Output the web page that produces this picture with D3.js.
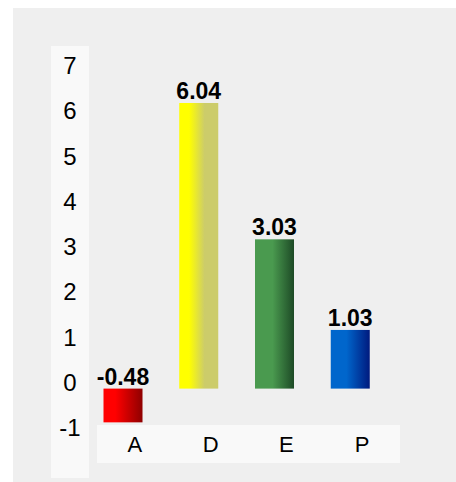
<!DOCTYPE html>
<html>
<head>
<meta charset="utf-8">
<script src="https://cdn.jsdelivr.net/npm/d3@7"></script>
<style>
  body { margin: 0; background: #fff; }
  text { font-family: "Liberation Sans", Arial, sans-serif; }
</style>
</head>
<body>
<div id="chart"></div>
<script>
// data
var categories = ["A", "D", "E", "P"];
var values = [-0.48, 6.04, 3.03, 1.03];
var yTicks = [-1, 0, 1, 2, 3, 4, 5, 6, 7];
// gradient ends per bar (left colour, right colour, where the fade starts/ends)
var colorsLeft = ["#ff0000", "#ffff00", "#4a9a4f", "#0066cc"];
var colorsRight = ["#8e0000", "#cccc6a", "#1d4a26", "#001a7e"];
var fadeStart = [0.3, 0.25, 0.45, 0.4];
var fadeEnd = [1, 0.65, 1, 1];

var fullWidth = 456, fullHeight = 482;

var svg = d3.select("#chart")
    .append("svg")
    .attr("width", fullWidth)
    .attr("height", fullHeight);

var defs = svg.append("defs");
categories.forEach(function(c, i) {
    var g = defs.append("linearGradient")
        .attr("id", "grad" + i)
        .attr("x1", "0%").attr("x2", "100%")
        .attr("y1", "0%").attr("y2", "0%");
    g.append("stop").attr("offset", "0%").attr("stop-color", colorsLeft[i]);
    g.append("stop").attr("offset", fadeStart[i] * 100 + "%").attr("stop-color", colorsLeft[i]);
    g.append("stop").attr("offset", fadeEnd[i] * 100 + "%").attr("stop-color", colorsRight[i]);
    g.append("stop").attr("offset", "100%").attr("stop-color", colorsRight[i]);
});

// background
svg.append("rect")
    .attr("x", 13).attr("y", 8)
    .attr("width", fullWidth - 13).attr("height", fullHeight - 8)
    .attr("fill", "#efefef");

// axis panels
svg.append("rect")
    .attr("x", 51).attr("y", 46)
    .attr("width", 38).attr("height", 432)
    .attr("fill", "#f9f9f9");
svg.append("rect")
    .attr("x", 97).attr("y", 425)
    .attr("width", 303).attr("height", 38)
    .attr("fill", "#f9f9f9");

var xScale = d3.scaleBand().domain(categories).range([97, 400]);
var yScale = d3.scaleLinear().domain([-1, 7]).range([421.9, 59.5]);
var base = -0.265; // where the bars meet
var barOffset = 6.5, barWidth = 39;

function barLen(v) { return yScale(base) - yScale(Math.abs(v)); }
function barTop(v) { return v >= 0 ? yScale(base) - barLen(v) : yScale(base); }

// y tick labels
svg.append("g").selectAll("text")
    .data(yTicks)
    .enter().append("text")
    .attr("x", 70)
    .attr("y", function(d) { return yScale(d); })
    .attr("dy", "0.6em")
    .attr("text-anchor", "middle")
    .attr("font-size", 24)
    .attr("fill", "#000")
    .text(function(d) { return d; });

// x labels
svg.append("g").selectAll("text")
    .data(categories)
    .enter().append("text")
    .attr("x", function(d) { return xScale(d) + xScale.bandwidth() / 2; })
    .attr("y", 452.3)
    .attr("text-anchor", "middle")
    .attr("font-size", 22)
    .attr("fill", "#000")
    .text(function(d) { return d; });

// bars
svg.append("g").selectAll("rect")
    .data(values)
    .enter().append("rect")
    .attr("x", function(d, i) { return xScale(categories[i]) + barOffset; })
    .attr("y", function(d) { return barTop(d); })
    .attr("width", barWidth)
    .attr("height", function(d) { return barLen(d); })
    .attr("fill", function(d, i) { return "url(#grad" + i + ")"; });

// value labels
svg.append("g").selectAll("text")
    .data(values)
    .enter().append("text")
    .attr("x", function(d, i) { return xScale(categories[i]) + barOffset + barWidth / 2; })
    .attr("y", function(d) { return barTop(d) - 4; })
    .attr("text-anchor", "middle")
    .attr("font-size", 23)
    .attr("font-weight", "bold")
    .attr("fill", "#000")
    .text(function(d) { return d.toFixed(2); });
</script>
</body>
</html>
